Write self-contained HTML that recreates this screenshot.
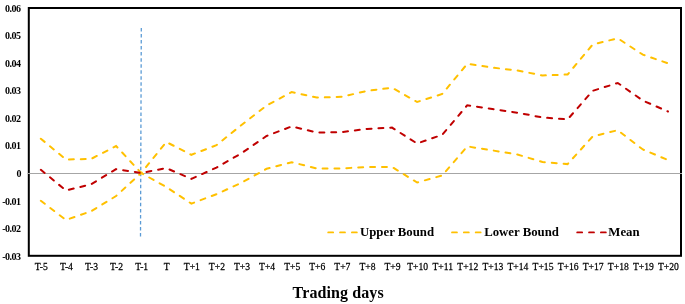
<!DOCTYPE html><html><head><meta charset="utf-8"><style>html,body{margin:0;padding:0;background:#fff;}svg{display:block;filter:blur(0.35px);}text{font-family:"Liberation Serif","Times New Roman",serif;fill:#000;}</style></head><body>
<svg width="685" height="304" viewBox="0 0 685 304">
<rect width="685" height="304" fill="#fff"/>
<rect x="28.8" y="8" width="652.2" height="247.8" fill="none" stroke="#000" stroke-width="2"/>
<line x1="27.6" y1="173.50" x2="682" y2="173.50" stroke="#a6a6a6" stroke-width="1.2"/>
<line x1="141.3" y1="28" x2="140.5" y2="236.6" stroke="#5b9bd5" stroke-width="1.3" stroke-dasharray="3.5 2.53"/>
<path d="M40.84,138.70 L65.93,159.50 L91.01,159.00 L116.10,146.00 L141.18,173.00 L166.27,142.00 L191.35,154.80 L216.43,145.20 L241.52,125.00 L266.60,105.50 L291.69,92.10 L316.77,97.60 L341.86,96.80 L366.94,90.90 L392.03,87.70 L417.11,102.00 L442.20,94.00 L467.28,63.80 L492.37,67.60 L517.45,70.50 L542.53,75.50 L567.62,74.50 L592.70,44.50 L617.79,38.30 L642.87,54.70 L667.96,63.30" fill="none" stroke="#ffc000" stroke-width="2" stroke-dasharray="4.95 6.906" stroke-linecap="round"/>
<path d="M40.84,200.80 L65.93,220.00 L91.01,211.30 L116.10,196.00 L141.18,173.00 L166.27,187.00 L191.35,203.60 L216.43,194.20 L241.52,182.70 L266.60,168.80 L291.69,162.20 L316.77,168.50 L341.86,168.40 L366.94,167.00 L392.03,167.00 L417.11,182.50 L442.20,175.50 L467.28,146.40 L492.37,150.40 L517.45,154.50 L542.53,162.00 L567.62,164.10 L592.70,136.40 L617.79,130.20 L642.87,149.50 L667.96,160.00" fill="none" stroke="#ffc000" stroke-width="2" stroke-dasharray="4.95 6.94" stroke-linecap="round"/>
<path d="M40.84,169.80 L65.93,190.50 L91.01,184.30 L116.10,169.10 L141.18,173.00 L166.27,168.10 L191.35,178.90 L216.43,167.60 L241.52,153.20 L266.60,136.00 L291.69,126.40 L316.77,132.50 L341.86,132.10 L366.94,128.90 L392.03,127.60 L417.11,143.50 L442.20,134.80 L467.28,105.20 L492.37,109.00 L517.45,112.70 L542.53,117.50 L567.62,119.40 L592.70,90.80 L617.79,83.00 L642.87,100.60 L667.96,111.50" fill="none" stroke="#c00000" stroke-width="2" stroke-dasharray="4.95 6.9" stroke-linecap="round"/>
<text transform="matrix(1 0 0 1 20.4 11.80)" text-anchor="end" font-size="10" font-weight="bold" letter-spacing="-0.55">0.06</text>
<text transform="matrix(1 0 0 1 20.4 39.33)" text-anchor="end" font-size="10" font-weight="bold" letter-spacing="-0.55">0.05</text>
<text transform="matrix(1 0 0 1 20.4 66.87)" text-anchor="end" font-size="10" font-weight="bold" letter-spacing="-0.55">0.04</text>
<text transform="matrix(1 0 0 1 20.4 94.40)" text-anchor="end" font-size="10" font-weight="bold" letter-spacing="-0.55">0.03</text>
<text transform="matrix(1 0 0 1 20.4 121.93)" text-anchor="end" font-size="10" font-weight="bold" letter-spacing="-0.55">0.02</text>
<text transform="matrix(1 0 0 1 20.4 149.47)" text-anchor="end" font-size="10" font-weight="bold" letter-spacing="-0.55">0.01</text>
<text transform="matrix(1 0 0 1 21.0 177.00)" text-anchor="end" font-size="10" font-weight="bold" letter-spacing="-0.55">0</text>
<text transform="matrix(1 0 0 1 20.4 204.53)" text-anchor="end" font-size="10" font-weight="bold" letter-spacing="-0.55">-0.01</text>
<text transform="matrix(1 0 0 1 20.4 232.07)" text-anchor="end" font-size="10" font-weight="bold" letter-spacing="-0.55">-0.02</text>
<text transform="matrix(1 0 0 1 20.4 259.60)" text-anchor="end" font-size="10" font-weight="bold" letter-spacing="-0.55">-0.03</text>
<text transform="matrix(0.875 0 0 1 41.34 270.3)" text-anchor="middle" font-size="11" stroke="#000" stroke-width="0.25">T-5</text>
<text transform="matrix(0.875 0 0 1 66.43 270.3)" text-anchor="middle" font-size="11" stroke="#000" stroke-width="0.25">T-4</text>
<text transform="matrix(0.875 0 0 1 91.51 270.3)" text-anchor="middle" font-size="11" stroke="#000" stroke-width="0.25">T-3</text>
<text transform="matrix(0.875 0 0 1 116.60 270.3)" text-anchor="middle" font-size="11" stroke="#000" stroke-width="0.25">T-2</text>
<text transform="matrix(0.875 0 0 1 141.68 270.3)" text-anchor="middle" font-size="11" stroke="#000" stroke-width="0.25">T-1</text>
<text transform="matrix(0.875 0 0 1 166.77 270.3)" text-anchor="middle" font-size="11" stroke="#000" stroke-width="0.25">T</text>
<text transform="matrix(0.875 0 0 1 191.85 270.3)" text-anchor="middle" font-size="11" stroke="#000" stroke-width="0.25">T+1</text>
<text transform="matrix(0.875 0 0 1 216.93 270.3)" text-anchor="middle" font-size="11" stroke="#000" stroke-width="0.25">T+2</text>
<text transform="matrix(0.875 0 0 1 242.02 270.3)" text-anchor="middle" font-size="11" stroke="#000" stroke-width="0.25">T+3</text>
<text transform="matrix(0.875 0 0 1 267.10 270.3)" text-anchor="middle" font-size="11" stroke="#000" stroke-width="0.25">T+4</text>
<text transform="matrix(0.875 0 0 1 292.19 270.3)" text-anchor="middle" font-size="11" stroke="#000" stroke-width="0.25">T+5</text>
<text transform="matrix(0.875 0 0 1 317.27 270.3)" text-anchor="middle" font-size="11" stroke="#000" stroke-width="0.25">T+6</text>
<text transform="matrix(0.875 0 0 1 342.36 270.3)" text-anchor="middle" font-size="11" stroke="#000" stroke-width="0.25">T+7</text>
<text transform="matrix(0.875 0 0 1 367.44 270.3)" text-anchor="middle" font-size="11" stroke="#000" stroke-width="0.25">T+8</text>
<text transform="matrix(0.875 0 0 1 392.53 270.3)" text-anchor="middle" font-size="11" stroke="#000" stroke-width="0.25">T+9</text>
<text transform="matrix(0.875 0 0 1 417.61 270.3)" text-anchor="middle" font-size="11" stroke="#000" stroke-width="0.25">T+10</text>
<text transform="matrix(0.875 0 0 1 442.70 270.3)" text-anchor="middle" font-size="11" stroke="#000" stroke-width="0.25">T+11</text>
<text transform="matrix(0.875 0 0 1 467.78 270.3)" text-anchor="middle" font-size="11" stroke="#000" stroke-width="0.25">T+12</text>
<text transform="matrix(0.875 0 0 1 492.87 270.3)" text-anchor="middle" font-size="11" stroke="#000" stroke-width="0.25">T+13</text>
<text transform="matrix(0.875 0 0 1 517.95 270.3)" text-anchor="middle" font-size="11" stroke="#000" stroke-width="0.25">T+14</text>
<text transform="matrix(0.875 0 0 1 543.03 270.3)" text-anchor="middle" font-size="11" stroke="#000" stroke-width="0.25">T+15</text>
<text transform="matrix(0.875 0 0 1 568.12 270.3)" text-anchor="middle" font-size="11" stroke="#000" stroke-width="0.25">T+16</text>
<text transform="matrix(0.875 0 0 1 593.20 270.3)" text-anchor="middle" font-size="11" stroke="#000" stroke-width="0.25">T+17</text>
<text transform="matrix(0.875 0 0 1 618.29 270.3)" text-anchor="middle" font-size="11" stroke="#000" stroke-width="0.25">T+18</text>
<text transform="matrix(0.875 0 0 1 643.37 270.3)" text-anchor="middle" font-size="11" stroke="#000" stroke-width="0.25">T+19</text>
<text transform="matrix(0.875 0 0 1 668.46 270.3)" text-anchor="middle" font-size="11" stroke="#000" stroke-width="0.25">T+20</text>
<line x1="328.2" y1="232.4" x2="359.2" y2="232.4" stroke="#ffc000" stroke-width="1.8" stroke-dasharray="4.95 6.9" stroke-linecap="round"/>
<text x="360.0" y="235.8" font-size="12.8" font-weight="bold">Upper Bound</text>
<line x1="452.0" y1="232.4" x2="483.0" y2="232.4" stroke="#ffc000" stroke-width="1.8" stroke-dasharray="4.95 6.9" stroke-linecap="round"/>
<text x="484.2" y="235.8" font-size="12.8" font-weight="bold">Lower Bound</text>
<line x1="577.2" y1="232.4" x2="608.2" y2="232.4" stroke="#c00000" stroke-width="1.8" stroke-dasharray="4.95 6.9" stroke-linecap="round"/>
<text x="608.3" y="235.8" font-size="12.8" font-weight="bold">Mean</text>
<text x="292.6" y="297.8" font-size="16" font-weight="bold" letter-spacing="0.1">Trading days</text>
</svg></body></html>
